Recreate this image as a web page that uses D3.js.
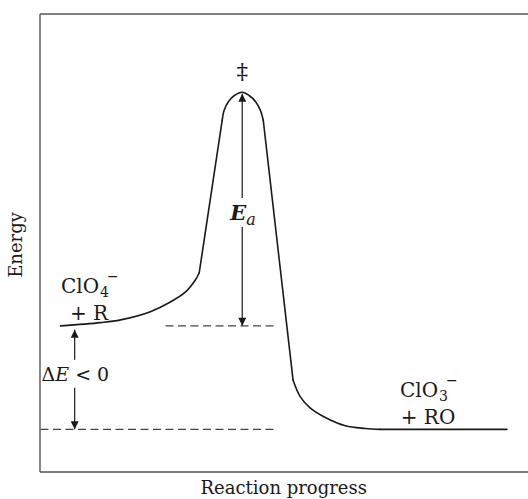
<!DOCTYPE html>
<html><head><meta charset="utf-8">
<script src="https://cdn.jsdelivr.net/npm/d3@7"></script>
<style>
html,body{margin:0;padding:0;background:#fff;}
svg{display:block;}
text{font-family:"DejaVu Serif","Liberation Serif",serif;fill:#1a1a1a;}
</style></head>
<body>
<svg id="chart" width="528" height="499"></svg>
<script>
// ---- data (reaction progress units 0-100, energy units 0-100) ----
const reactantCurve = [[4.3,31.8],[12.5,32.5],[16.6,33.1],[22.7,34.9],[26.8,37.0],[29.9,39.2],[31.9,41.8],[32.7,43.4]];
const leftRise = [[32.7,43.4],[37.4,76.7]];
const barrierCap = [[37.4,76.7],[37.8,78.9],[38.7,80.8],[39.9,82.1],[41.5,82.8],[42.9,82.1],[44.2,80.8],[45.2,78.9],[45.8,76.7]];
const rightFall = [[45.8,76.7],[51.9,20.0]];
const productCurve = [[51.9,20.0],[53.4,16.3],[55.4,13.9],[58.5,11.8],[62.6,10.0],[66.7,9.4],[69.7,9.2]];
const productFlat = [[69.7,9.2],[95.7,9.2]];
const reactantLevel = 31.8, productLevel = 9.2, peakLevel = 82.8, peakX = 41.5;
const dashedLines = [{x0:25.8,x1:48.3,y:reactantLevel},{x0:0.2,x1:48.5,y:productLevel}];
const axisLabels = {x:"Reaction progress", y:"Energy"};

const svg = d3.select("#chart");
const x = d3.scaleLinear().domain([0,100]).range([39.5,528]);
const y = d3.scaleLinear().domain([0,100]).range([471.5,13.5]);

// frame (axes without ticks)
const axisStyle = g => g.call(s=>s.select(".domain").attr("stroke","#555").attr("stroke-width",1.4));
svg.append("g").attr("transform",`translate(0,${y(0)})`)
  .call(d3.axisBottom(x).tickValues([]).tickSizeOuter(0)).call(axisStyle);
svg.append("g").attr("transform",`translate(0,${y(100)})`)
  .call(d3.axisTop(x).tickValues([]).tickSizeOuter(0)).call(axisStyle);
svg.append("g").attr("transform",`translate(${x(0)},0)`)
  .call(d3.axisLeft(y).tickValues([]).tickSizeOuter(0)).call(axisStyle);

// markers
const defs = svg.append("defs");
defs.append("marker").attr("id","ah").attr("viewBox","0 0 10 10")
  .attr("refX",10).attr("refY",5).attr("markerWidth",10).attr("markerHeight",8)
  .attr("markerUnits","userSpaceOnUse").attr("orient","auto-start-reverse")
  .append("path").attr("d","M0,0 L10,5 L0,10 Z").attr("fill","#1a1a1a");

// energy curve
const smooth = d3.line().x(d=>x(d[0])).y(d=>y(d[1])).curve(d3.curveCatmullRom.alpha(0.5));
const straight = d3.line().x(d=>x(d[0])).y(d=>y(d[1]));
[[reactantCurve,smooth],[leftRise,straight],[barrierCap,smooth],[rightFall,straight],[productCurve,smooth],[productFlat,straight]]
 .forEach(([pts,gen])=>{
   svg.append("path").attr("d",gen(pts)).attr("fill","none")
     .attr("stroke","#1a1a1a").attr("stroke-width",1.6).attr("stroke-linecap","round");
 });

// dashed reference lines
svg.selectAll(".dash").data(dashedLines).join("line")
  .attr("x1",d=>x(d.x0)).attr("x2",d=>x(d.x1)).attr("y1",d=>y(d.y)).attr("y2",d=>y(d.y))
  .attr("stroke","#444").attr("stroke-width",1.1).attr("stroke-dasharray","8,4.5");

// Ea arrow (with gap for label)
const eaGapTop = 59.7, eaGapBot = 53.4;
svg.append("line").attr("x1",x(peakX)).attr("x2",x(peakX)).attr("y1",y(eaGapTop)).attr("y2",y(peakLevel)+1.5)
  .attr("stroke","#1a1a1a").attr("stroke-width",1.2).attr("marker-end","url(#ah)");
svg.append("line").attr("x1",x(peakX)).attr("x2",x(peakX)).attr("y1",y(eaGapBot)).attr("y2",y(reactantLevel))
  .attr("stroke","#1a1a1a").attr("stroke-width",1.2).attr("marker-end","url(#ah)");
const ea = svg.append("text").attr("x",x(peakX)-12).attr("y",(y(eaGapTop)+y(eaGapBot))/2+7)
  .attr("font-size",21).attr("font-style","italic").attr("font-weight","bold");
ea.append("tspan").text("E");
ea.append("tspan").attr("dy",5).attr("font-size",16).attr("font-weight","normal").text("a");

// double dagger
svg.append("text").attr("x",x(peakX)).attr("y",y(peakLevel)-13).attr("text-anchor","middle")
  .attr("font-size",23).text("‡");

// ΔE arrow
const deX = 7.2, deGapTop = 24.4, deGapBot = 18.3;
svg.append("line").attr("x1",x(deX)).attr("x2",x(deX)).attr("y1",y(deGapTop)).attr("y2",y(reactantLevel)+4)
  .attr("stroke","#1a1a1a").attr("stroke-width",1.2).attr("marker-end","url(#ah)");
svg.append("line").attr("x1",x(deX)).attr("x2",x(deX)).attr("y1",y(deGapBot)).attr("y2",y(productLevel))
  .attr("stroke","#1a1a1a").attr("stroke-width",1.2).attr("marker-end","url(#ah)");
const de = svg.append("text").attr("x",x(0)+2).attr("y",(y(deGapTop)+y(deGapBot))/2+7).attr("font-size",19);
de.append("tspan").text("Δ");
de.append("tspan").attr("font-style","italic").text("E");
de.append("tspan").text(" < 0");

// species labels
function species(cx, baseY, base, sub){
  const t = svg.append("text").attr("x",cx).attr("y",baseY).attr("font-size",20);
  t.append("tspan").text(base);
  const right = cx + t.node().getComputedTextLength();
  svg.append("text").attr("x",right+1).attr("y",baseY+4).attr("font-size",14).text(sub);
  svg.append("text").attr("x",right+8).attr("y",baseY-12).attr("font-size",14).text("\u2212");
}
species(61, 293, "ClO", "4");
svg.append("text").attr("x",89).attr("y",320).attr("text-anchor","middle").attr("font-size",20).text("+ R");
species(400, 397, "ClO", "3");
svg.append("text").attr("x",428).attr("y",424).attr("text-anchor","middle").attr("font-size",20).text("+ RO");

// axis titles
svg.append("text").attr("x",(x(0)+528)/2).attr("y",494).attr("text-anchor","middle").attr("font-size",18).text(axisLabels.x);
svg.append("text").attr("transform",`translate(22,245) rotate(-90)`).attr("text-anchor","middle").attr("font-size",18).text(axisLabels.y);
</script>
</body></html>
